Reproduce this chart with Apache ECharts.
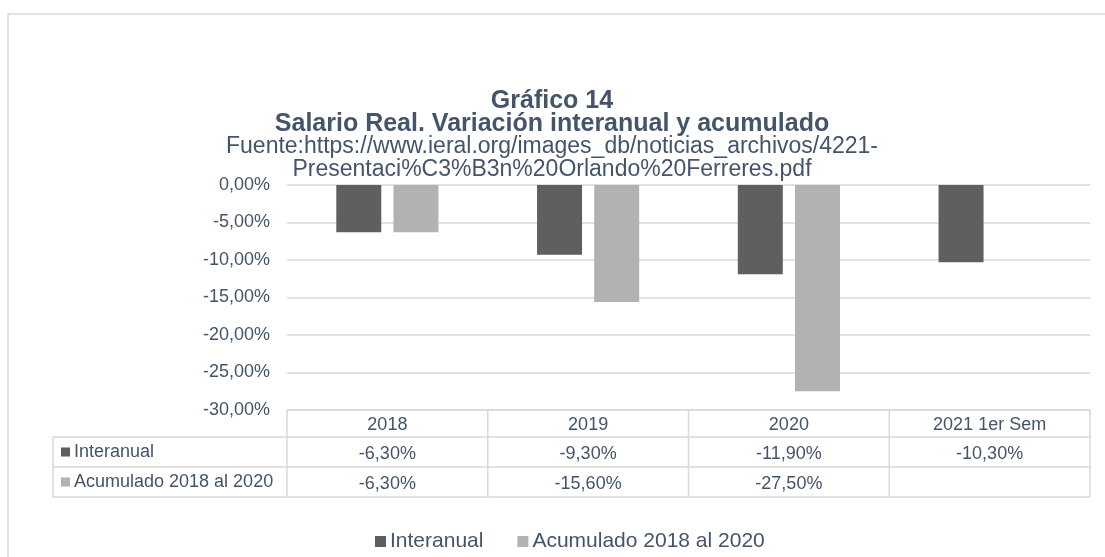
<!DOCTYPE html>
<html>
<head>
<meta charset="utf-8">
<script src="https://cdn.jsdelivr.net/npm/echarts@6/dist/echarts.min.js"></script>
<style>html,body{margin:0;padding:0;background:#fff}#c{width:1105px;height:557px}</style>
</head>
<body>
<div id="c"></div>
<script>
const categories = ['2018', '2019', '2020', '2021 1er Sem'];
const interanual = [-6.3, -9.3, -11.9, -10.3];
const acumulado = [-6.3, -15.6, -27.5, null];
const seriesNames = ['Interanual', 'Acumulado 2018 al 2020'];
const yTicks = { min: -30, max: 0, interval: 5 };

const TXT = '#44546A';
const FONT = '"Liberation Sans", Arial, sans-serif';
const LINE = '#d9d9d9';
const C1 = '#5f5f5f', C2 = '#b2b2b2';

const fmt = v => (v === null || v === undefined) ? '' : v.toFixed(2).replace('.', ',') + '%';

// layout
const G = { left: 287, right: 1090, top: 185, bottom: 410 };
const rows = [410, 437, 467, 497];
const tableLeft = 53;
const colW = (G.right - G.left) / categories.length;

const graphics = [];
graphics.push({ type: 'rect', shape: { x: 8, y: 14, width: 1200, height: 700 }, style: { fill: 'none', stroke: LINE, lineWidth: 1.5 }, silent: true });
graphics.push({ type: 'line', shape: { x1: G.left, y1: rows[0], x2: G.right, y2: rows[0] }, style: { stroke: LINE, lineWidth: 1.5 } });
for (let i = 1; i < rows.length; i++) {
  graphics.push({ type: 'line', shape: { x1: tableLeft, y1: rows[i], x2: G.right, y2: rows[i] }, style: { stroke: LINE, lineWidth: 1.5 } });
}
graphics.push({ type: 'line', shape: { x1: tableLeft, y1: rows[1], x2: tableLeft, y2: rows[3] }, style: { stroke: LINE, lineWidth: 1.5 } });
for (let k = 0; k <= categories.length; k++) {
  const x = G.left + colW * k;
  graphics.push({ type: 'line', shape: { x1: x, y1: rows[0], x2: x, y2: rows[3] }, style: { stroke: LINE, lineWidth: 1.5 } });
}
[C1, C2].forEach((col, i) => {
  const cy = (rows[i + 1] + rows[i + 2]) / 2;
  graphics.push({ type: 'rect', shape: { x: 61, y: cy - 4.5, width: 9, height: 9 }, style: { fill: col } });
  graphics.push({ type: 'text', x: 74, y: cy, style: { text: seriesNames[i], fill: TXT, font: '18px ' + FONT, textVerticalAlign: 'middle' } });
});
// title lines
const titleLines = [
  { t: 'Gráfico 14', y: 101, f: 'bold 25px ' + FONT },
  { t: 'Salario Real. Variación interanual y acumulado', y: 124, f: 'bold 25px ' + FONT },
  { t: 'Fuente:https://www.ieral.org/images_db/noticias_archivos/4221-', y: 147, f: '23px ' + FONT },
  { t: 'Presentaci%C3%B3n%20Orlando%20Ferreres.pdf', y: 170, f: '23px ' + FONT }
];
titleLines.forEach(l => graphics.push({ type: 'text', x: 552, y: l.y, style: { text: l.t, fill: TXT, font: l.f, textAlign: 'center', textVerticalAlign: 'middle' } }));

const chart = echarts.init(document.getElementById('c'));
chart.setOption({
  animation: false,
  backgroundColor: '#fff',
  legend: {
    data: seriesNames,
    left: 370,
    top: 526,
    icon: 'rect',
    itemWidth: 11,
    itemHeight: 11,
    itemGap: 34,
    textStyle: { color: TXT, fontFamily: FONT, fontSize: 21, padding: [0, 0, 0, -1] }
  },
  grid: { left: G.left, right: 1105 - G.right, top: G.top, bottom: 557 - G.bottom, containLabel: false },
  xAxis: [
    {
      type: 'category', data: categories, position: 'bottom',
      axisLine: { show: false }, axisTick: { show: false },
      axisLabel: { color: TXT, fontFamily: FONT, fontSize: 18, margin: 6, interval: 0 }
    },
    {
      type: 'category', data: categories, position: 'bottom', offset: 29,
      axisLine: { show: false }, axisTick: { show: false },
      axisLabel: { color: TXT, fontFamily: FONT, fontSize: 18, margin: 6, interval: 0, formatter: (v, i) => fmt(interanual[i]) }
    },
    {
      type: 'category', data: categories, position: 'bottom', offset: 59,
      axisLine: { show: false }, axisTick: { show: false },
      axisLabel: { color: TXT, fontFamily: FONT, fontSize: 18, margin: 6, interval: 0, formatter: (v, i) => fmt(acumulado[i]) }
    }
  ],
  yAxis: {
    type: 'value', min: yTicks.min, max: yTicks.max, interval: yTicks.interval,
    axisLine: { show: false }, axisTick: { show: false },
    splitLine: { lineStyle: { color: LINE, width: 1.5 } },
    axisLabel: { color: TXT, fontFamily: FONT, fontSize: 18, margin: 17, formatter: v => fmt(v) }
  },
  series: [
    { name: seriesNames[0], type: 'bar', xAxisIndex: 0, data: interanual, barWidth: 45, barGap: '27%', itemStyle: { color: C1 } },
    { name: seriesNames[1], type: 'bar', xAxisIndex: 0, data: acumulado, barWidth: 45, barGap: '27%', itemStyle: { color: C2 } }
  ],
  graphic: graphics
});
</script>
</body>
</html>
